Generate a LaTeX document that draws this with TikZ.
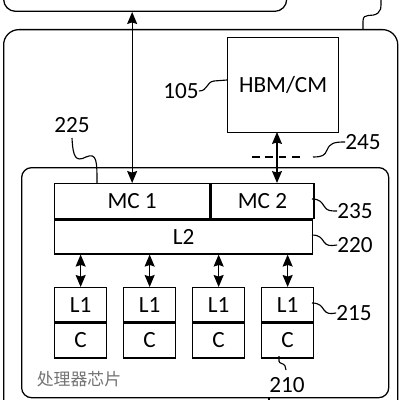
\documentclass[tikz,border=0pt]{standalone}
\usepackage{fontspec}
\setmainfont{Carlito}
\newfontfamily\cjk{Noto Sans CJK SC}
\usetikzlibrary{arrows.meta,positioning}
\tikzset{
  blk/.style={draw,line width=0.9pt,inner sep=0pt,font=\fontsize{16.5}{19}\selectfont},
  frm/.style={draw,line width=0.9pt,inner sep=0pt},
  darr/.style={line width=0.9pt,{Stealth[length=3mm,width=2.5mm,inset=0.4mm]}-{Stealth[length=3mm,width=2.5mm,inset=0.4mm]}},
  lead/.style={line width=0.8pt},
  cut/.style={line width=0.8pt,dash pattern=on 5.5pt off 4pt},
  lbl/.style={inner sep=0pt,font=\fontsize{16.5}{19}\selectfont}
}
\begin{document}
\begin{tikzpicture}[x=0.025cm,y=-0.025cm]
\useasboundingbox (0,0) rectangle (400,400);
% host above and the two frames
\node[frm,rounded corners=3mm,minimum width=7.075cm,minimum height=0.8cm,anchor=south west] (host) at (3,12) {};
\node[frm,rounded corners=3.8mm,minimum width=9.85cm,minimum height=9.8cm,anchor=north west] (pkg) at (3,29) {};
\node[blk,minimum width=2.775cm,minimum height=2.375cm,anchor=north west] (hbm) at (227,37) {HBM/CM};
\node[frm,rounded corners=2.5mm,minimum width=9.175cm,minimum height=5.75cm,anchor=north west] (chip) at (21,167) {};
% controllers and L2
\node[blk,minimum width=3.875cm,minimum height=0.875cm,anchor=north west] (mc1) at (54,183) {MC 1};
\node[blk,minimum width=2.575cm,minimum height=0.875cm,anchor=north west] (mc2) at (mc1.north east) {MC 2};
\node[blk,minimum width=6.45cm,minimum height=0.85cm,anchor=north west] (l2) at (mc1.south west) {L2};
% cores
\foreach \i in {1,...,4} {
  \node[blk,minimum width=1.3cm,minimum height=0.85cm,anchor=north west] (l1\i) at ({54+69*(\i-1)},287) {L1};
  \node[blk,minimum width=1.3cm,minimum height=0.875cm,anchor=north] (c\i) at (l1\i.south) {C};
  \draw[darr] (l2.south -| l1\i.north) -- (l1\i.north);
}
\node[lbl,text=black!55,font=\cjk\fontsize{12}{14}\selectfont] (name) at (79,379) {处理器芯片};
% links to memory
\coordinate (m2top) at (277,132);
\coordinate (m2bot) at (277,183);
\draw[darr] (host.south -| mc1.north) -- (mc1.north);
\draw[darr] (m2top) -- (m2bot);
\coordinate (cutl) at (252,157); \coordinate (cutr) at (305,157);
\draw[cut] (cutl) -- (cutr);
% reference numerals
\node[lbl] (n105) at (181,91) {105};
\node[lbl] (n225) at (72,125) {225};
\node[lbl] (n245) at (363,142) {245};
\node[lbl] (n235) at (355,211) {235};
\node[lbl] (n220) at (355,245) {220};
\node[lbl] (n215) at (354,313) {215};
\node[lbl] (n210) at (287,385) {210};
\draw[lead] (n105.east) .. controls (208,91) and (206,82) .. (214,81) .. controls (220,80) .. (227,80);
\draw[lead] (72,138) .. controls (73,158) and (76,162) .. (86,157) .. controls (97,152) and (97,162) .. (97,183);
\draw[lead] (313,157) .. controls (323,157) and (325,155) .. (327,150) .. controls (330,143) and (334,142) .. (n245.west);
\draw[lead] (312,199) .. controls (320,199) and (322,203) .. (324,206) .. controls (327,211) and (330,211) .. (n235.west);
\draw[lead] (312,235) .. controls (320,235) and (322,239) .. (324,242) .. controls (327,246) and (330,246) .. (n220.west);
\draw[lead] (312,303) .. controls (320,303) and (322,307) .. (324,310) .. controls (327,314) and (330,314) .. (n215.west);
\draw[lead] (279,356) -- (279,361) .. controls (279,364) and (284,363) .. (285,366) -- (286,370);
\draw[lead] (363,29) -- (363,21) .. controls (363,12) and (372,18) .. (378,13) .. controls (381,10) .. (381,-1);
\draw[lead] (269,397) -- (269,401);
\end{tikzpicture}
\end{document}
